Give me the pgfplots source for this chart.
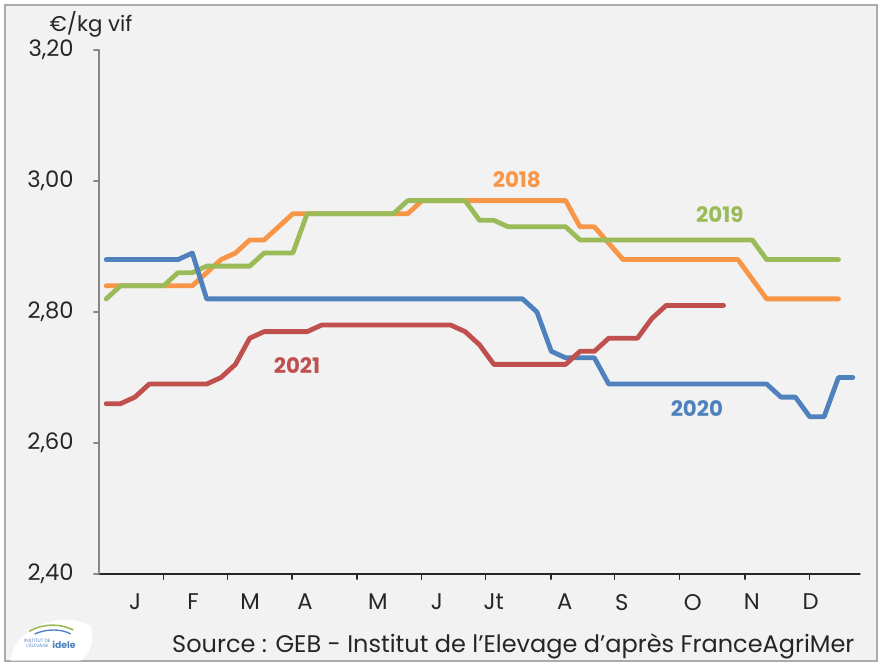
\documentclass[border=0pt]{standalone}
\usepackage{pgfplots}
\pgfplotsset{compat=1.18}
\usepackage{fontspec}
\setmainfont{Poppins}
\definecolor{c18}{HTML}{F79646}
\definecolor{c19}{HTML}{9BBB59}
\definecolor{c20}{HTML}{4F81BD}
\definecolor{c21}{HTML}{C0504D}
\definecolor{bg}{HTML}{F2F2F2}
\definecolor{ax}{HTML}{868686}
\begin{document}
\begin{tikzpicture}
\fill[white] (0pt,0pt) rectangle (661.5pt,499.5pt);
\draw[ax!70, fill=bg, line width=0.8pt] (3.75pt,3.75pt) rectangle (657.75pt,495.75pt);
% logo area
\fill[white] (8pt,4pt) .. controls (10pt,30pt) and (50pt,42pt) .. (68pt,30pt) .. controls (72pt,18pt) and (66pt,6pt) .. (60pt,4pt) -- cycle;
\node[font=\fontsize{3.5}{4}\selectfont, text=c20, align=center] at (28pt,17pt) {INSTITUT DE\\L'ÉLEVAGE};
\node[font=\bfseries\fontsize{7}{8}\selectfont, text=c20] at (48pt,16pt) {idele};
\draw[c19, line width=1.2pt] (22pt,26pt) .. controls (32pt,32pt) and (45pt,32pt) .. (55pt,27pt);
\draw[c20, line width=1pt] (26pt,24pt) .. controls (35pt,28pt) and (46pt,28pt) .. (53pt,24pt);
\begin{axis}[
  at={(74.25pt,69pt)}, anchor=south west,
  scale only axis, width=570.75pt, height=393pt,
  xmin=0.5, xmax=53.5, ymin=2.4, ymax=3.2,
  axis x line=bottom, axis y line=left,
  x axis line style={-, black!85, line width=0.8pt},
  y axis line style={-, ax, line width=0.8pt},
  xtick={4.96,9.48,13.94,18.47,22.99,27.45,31.98,36.43,40.96,45.49,50.01},
  xticklabels={},
  x tick style={black!85, line width=0.8pt},
  y tick style={ax, line width=0.8pt},
  tick align=outside, major tick length=4pt,
  extra x ticks={3.01,7.05,11.02,14.85,19.93,24.04,28.0,32.94,36.91,41.85,45.96,50.07},
  extra x tick labels={J,F,M,A,M,J,Jt,A,S,O,N,D},
  extra x tick style={major tick length=0pt, tick style={draw=none},
     xticklabel style={yshift=-11.5pt}},
  ytick={2.4,2.6,2.8,3.0,3.2},
  /pgf/number format/fixed,
  /pgf/number format/fixed zerofill,
  /pgf/number format/precision=2,
  /pgf/number format/use comma,
  /pgf/number format/assume math mode=true,
  yticklabel style={xshift=-11.5pt},
  tick label style={font=\fontsize{17}{20}\selectfont, text=black!85},
  clip=false,
  line join=round, line cap=round,
]
\addplot[c18, line width=3.6pt] coordinates {
(1,2.84)(2,2.84)(3,2.84)(4,2.84)(5,2.84)(6,2.84)(7,2.84)(8,2.86)(9,2.88)(10,2.89)
(11,2.91)(12,2.91)(13,2.93)(14,2.95)(15,2.95)(16,2.95)(17,2.95)(18,2.95)(19,2.95)(20,2.95)
(21,2.95)(22,2.95)(23,2.97)(24,2.97)(25,2.97)(26,2.97)(27,2.97)(28,2.97)(29,2.97)(30,2.97)
(31,2.97)(32,2.97)(33,2.97)(34,2.93)(35,2.93)(36,2.905)(37,2.88)(38,2.88)(39,2.88)(40,2.88)
(41,2.88)(42,2.88)(43,2.88)(44,2.88)(45,2.88)(46,2.85)(47,2.82)(48,2.82)(49,2.82)(50,2.82)
(51,2.82)(52,2.82)};
\addplot[c19, line width=3.6pt] coordinates {
(1,2.82)(2,2.84)(3,2.84)(4,2.84)(5,2.84)(6,2.86)(7,2.86)(8,2.87)(9,2.87)(10,2.87)
(11,2.87)(12,2.89)(13,2.89)(14,2.89)(15,2.95)(16,2.95)(17,2.95)(18,2.95)(19,2.95)(20,2.95)
(21,2.95)(22,2.97)(23,2.97)(24,2.97)(25,2.97)(26,2.97)(27,2.94)(28,2.94)(29,2.93)(30,2.93)
(31,2.93)(32,2.93)(33,2.93)(34,2.91)(35,2.91)(36,2.91)(37,2.91)(38,2.91)(39,2.91)(40,2.91)
(41,2.91)(42,2.91)(43,2.91)(44,2.91)(45,2.91)(46,2.91)(47,2.88)(48,2.88)(49,2.88)(50,2.88)
(51,2.88)(52,2.88)};
\addplot[c20, line width=3.6pt] coordinates {
(1,2.88)(2,2.88)(3,2.88)(4,2.88)(5,2.88)(6,2.88)(7,2.89)(8,2.82)(9,2.82)(10,2.82)
(11,2.82)(12,2.82)(13,2.82)(14,2.82)(15,2.82)(16,2.82)(17,2.82)(18,2.82)(19,2.82)(20,2.82)
(21,2.82)(22,2.82)(23,2.82)(24,2.82)(25,2.82)(26,2.82)(27,2.82)(28,2.82)(29,2.82)(30,2.82)
(31,2.80)(32,2.74)(33,2.73)(34,2.73)(35,2.73)(36,2.69)(37,2.69)(38,2.69)(39,2.69)(40,2.69)
(41,2.69)(42,2.69)(43,2.69)(44,2.69)(45,2.69)(46,2.69)(47,2.69)(48,2.67)(49,2.67)(50,2.64)
(51,2.64)(52,2.70)(53,2.70)};
\addplot[c21, line width=3.6pt] coordinates {
(1,2.66)(2,2.66)(3,2.67)(4,2.69)(5,2.69)(6,2.69)(7,2.69)(8,2.69)(9,2.70)(10,2.72)
(11,2.76)(12,2.77)(13,2.77)(14,2.77)(15,2.77)(16,2.78)(17,2.78)(18,2.78)(19,2.78)(20,2.78)
(21,2.78)(22,2.78)(23,2.78)(24,2.78)(25,2.78)(26,2.77)(27,2.75)(28,2.72)(29,2.72)(30,2.72)
(31,2.72)(32,2.72)(33,2.72)(34,2.74)(35,2.74)(36,2.76)(37,2.76)(38,2.76)(39,2.79)(40,2.81)
(41,2.81)(42,2.81)(43,2.81)(44,2.81)};
\node[text=c18, font=\bfseries\fontsize{16}{19}\selectfont] at (axis cs:29.6,3.0015) {2018};
\node[text=c19, font=\bfseries\fontsize{16}{19}\selectfont] at (axis cs:43.74,2.948) {2019};
\node[text=c20, font=\bfseries\fontsize{16}{19}\selectfont] at (axis cs:42.14,2.653) {2020};
\node[text=c21, font=\bfseries\fontsize{16}{19}\selectfont] at (axis cs:14.29,2.7176) {2021};
\end{axis}
\node[font=\fontsize{16}{19}\selectfont, text=black!85, anchor=west, inner sep=0pt] at (37pt,481pt) {€/kg vif};
\node[font=\fontsize{18}{21}\selectfont, text=black!85] at (385pt,14.5pt) {Source : GEB - Institut de l’Elevage d’après FranceAgriMer};
\end{tikzpicture}
\end{document}
